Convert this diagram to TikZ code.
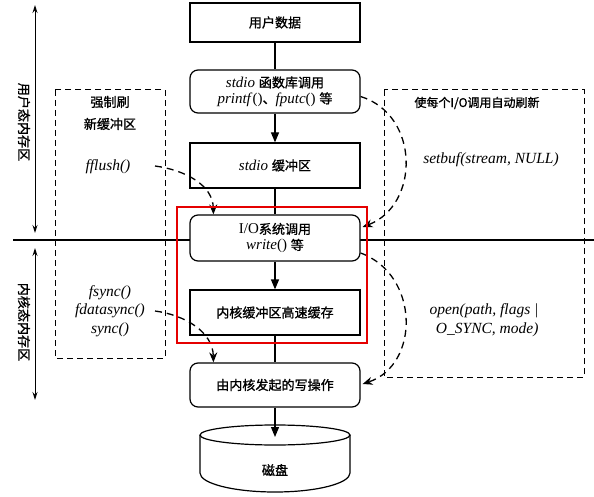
\documentclass[tikz,border=0pt]{standalone}
\usepackage{fontspec}
\setmainfont{Liberation Serif}
\newfontfamily\cjk{Noto Sans CJK SC}[FakeBold=1.2, Scale=0.87]
\usetikzlibrary{calc, positioning, arrows.meta}

\begin{document}
\begin{tikzpicture}[x=1pt, y=1pt,
	box/.style={draw, line width=1.2pt, fill=white, minimum width=170pt, minimum height=44pt, align=center, inner sep=2pt, font=\fontsize{15}{20}\selectfont},
	rbox/.style={box, rounded corners=8pt},
	dbox/.style={draw, dash pattern=on 6pt off 4pt, line width=1pt},
	flow/.style={line width=1.2pt, -{Triangle[length=10pt, width=8pt]}},
	dflow/.style={dash pattern=on 7pt off 5pt, line width=1.3pt, -{Stealth[length=10pt, width=8pt]}},
	span/.style={line width=1pt, {Stealth[length=8pt, width=5pt]}-{Stealth[length=8pt, width=5pt]}},
	lbl/.style={font=\fontsize{15}{18}\selectfont, align=center},
	fn/.style={lbl, font=\fontsize{15.5}{18.5}\selectfont\itshape}]

	\useasboundingbox (0,0) rectangle (594,-497);

	% user / kernel boundary
	\draw [line width=1.8pt] (13,-240) -- (594,-240);

	% dashed regions
	\draw [dbox] (55,-90) rectangle (165,-358);
	\draw [dbox] (384,-90) rectangle (584,-377);

	% memory regions at the left
	\coordinate (u-top) at (35,-5);
	\coordinate (u-bot) at (35,-233);
	\coordinate (k-top) at (35,-248);
	\coordinate (k-bot) at (35,-400);
	\draw [span] (u-top) -- (u-bot);
	\draw [span] (k-top) -- (k-bot);
	\node [lbl, rotate=-90] (user) at (24,-122) {\cjk 用户态内存区};
	\node [lbl, rotate=-90] (kern) at (24,-322) {\cjk 内核态内存区};

	% main column
	\node [box, minimum height=39pt] (data) at (275,-22.5) {\cjk 用户数据};
	\node [rbox, minimum height=43pt] (lib) at (275,-91.5) {\textit{stdio} {\cjk 函数库调用}\\[-4pt] \textit{printf}(){\cjk 、}\textit{fputc}() {\cjk 等}};
	\node [box, minimum height=45pt] (sbuf) at (275,-165.5) {\textit{stdio} {\cjk 缓冲区}};
	\node [rbox, minimum height=46pt] (sys) at (275,-238) {I/O{\cjk 系统调用}\\[-4pt] \textit{write}() {\cjk 等}};
	\node [box, minimum height=45pt] (kbuf) at (275,-312.5) {\cjk 内核缓冲区高速缓存};
	\node [rbox, minimum height=44pt] (kwr) at (275,-385) {\cjk 由内核发起的写操作};

	% disk
	\def\RX{75};
	\draw [line width=1.2pt, fill=white] (200,-435) -- (200,-473) arc [start angle=180, end angle=360, x radius=\RX, y radius=19] -- (350,-435);
	\draw [line width=1.2pt] (275,-435) ellipse [x radius=\RX, y radius=10];
	\coordinate (disk-top) at (275,-437);
	\node [lbl] (disk) at (275,-470) {\cjk 磁盘};

	\draw [line width=1.2pt] (data) -- (lib);
	\draw [flow] (lib) -- (sbuf);
	\draw [line width=1.2pt] (sbuf) -- (sys);
	\draw [flow] (sys) -- (kbuf);
	\draw [line width=1.2pt] (kbuf) -- (kwr);
	\draw [flow] (kwr) -- (disk-top);

	% left box
	\node [lbl] (force) at (110,-113) {\cjk 强制刷\\[4pt]\cjk 新缓冲区};
	\node [fn] (ffl) at (108,-167) {fflush()};
	\node [fn] (fsy) at (110,-311) {fsync()\\fdatasync()\\sync()};
	\coordinate (ffl-out) at (155,-166);
	\coordinate (fsy-out) at (155,-311);
	\draw [dflow] (ffl-out) .. controls (185,-170) and (213,-185) .. ($(sys.north west)+(24,0)$);
	\draw [dflow] (fsy-out) .. controls (185,-315) and (213,-332) .. ($(kwr.north west)+(24,0)$);

	% right box
	\node [lbl, font=\fontsize{13.8}{16}\selectfont\cjk] (auto) at (477,-103) {使每个I/O调用自动刷新};
	\node [fn] (setb) at (491,-160) {setbuf(stream, NULL)};
	\node [fn, align=right] (open) at (484,-320) {open(path, flags |\\O\_SYNC, mode)};
	\draw [dflow] ($(lib.east)+(0,-5)$) .. controls (420,-115) and (420,-205) .. ($(sys.east)+(2,11)$);
	\draw [dflow] ($(sys.east)+(0,-15)$) .. controls (420,-275) and (420,-365) .. ($(kwr.east)+(2,1)$);

	% highlight
	\draw [line width=1.5pt, red!90!black] (177,-207) rectangle (367,-343);
\end{tikzpicture}
\end{document}
